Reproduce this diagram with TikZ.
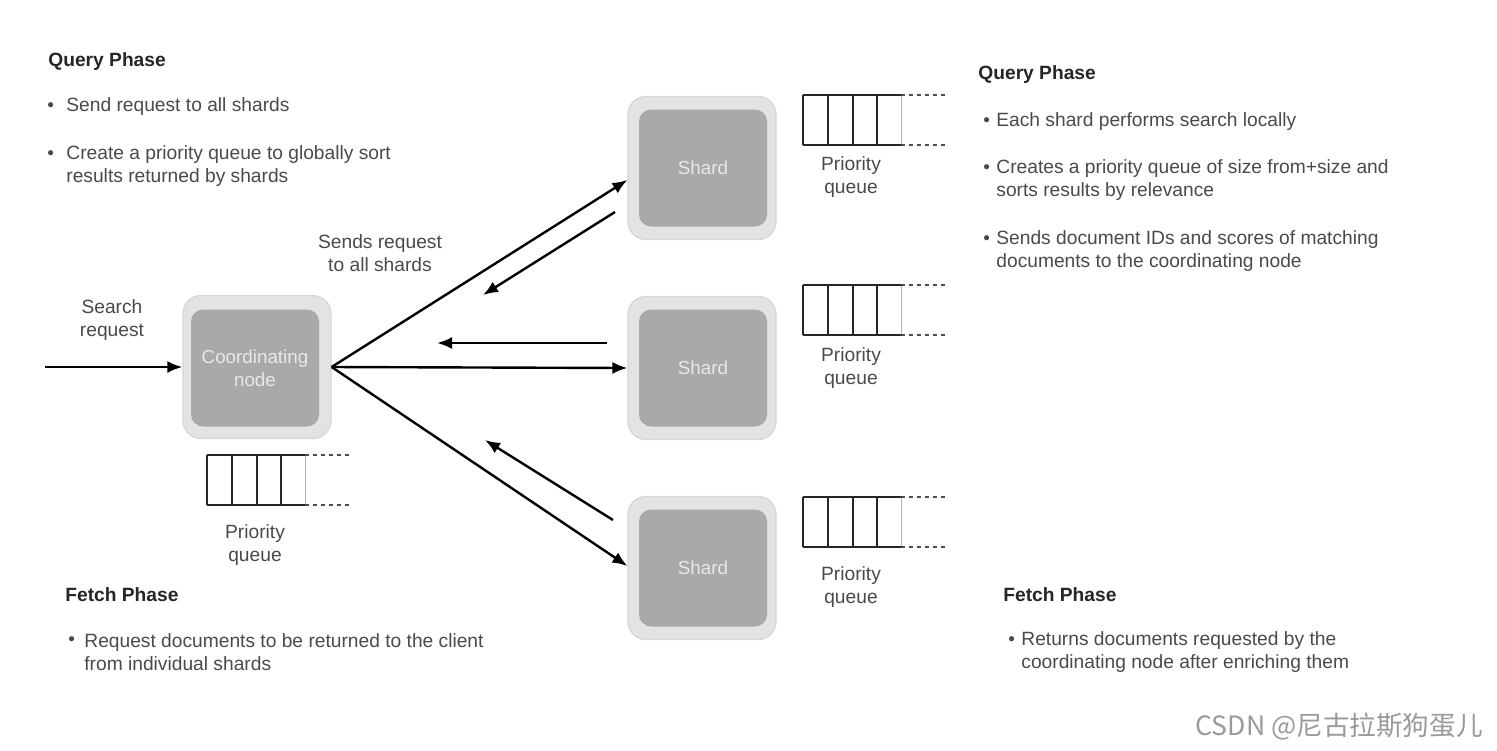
\documentclass[tikz,border=0pt]{standalone}
\usepackage{fontspec}
\setmainfont{Liberation Sans}
\newfontfamily\cjk{Noto Sans CJK SC}
\usetikzlibrary{arrows.meta,calc}
\definecolor{txtgray}{HTML}{4A4A4A}
\definecolor{headcol}{HTML}{262626}
\definecolor{outerfill}{HTML}{E3E3E3}
\definecolor{outerline}{HTML}{D6D6D6}
\definecolor{innerfill}{HTML}{A9A9A9}
\definecolor{boxtxt}{HTML}{E8E8E8}
\definecolor{wmark}{HTML}{9A9A9A}
\tikzset{
  outerbox/.style={draw=outerline, line width=0.6pt, fill=outerfill, rounded corners=9pt,
    minimum width=74pt, minimum height=71.5pt, inner sep=0pt},
  innerbox/.style={fill=innerfill, rounded corners=6pt, minimum width=64pt, minimum height=58.5pt,
    text=boxtxt, align=center, inner sep=0pt, font=\fontsize{9.4}{11.5}\selectfont},
  arr/.style={line width=1.2pt, -{Latex[length=7.5pt,width=6pt]}},
  body/.style={text=txtgray, font=\fontsize{9.6}{11.5}\selectfont, inner sep=0pt, anchor=west, align=left},
  lbl/.style={text=txtgray, font=\fontsize{9.6}{11.5}\selectfont, inner sep=0pt, align=center},
  head/.style={text=headcol, font=\bfseries\fontsize{9.6}{11.5}\selectfont, inner sep=0pt, anchor=west},
  bul/.style={text=txtgray, font=\fontsize{9.5}{10}\selectfont, inner sep=0pt, anchor=west},
  qline/.style={line width=1.3pt, black!85},
  qdash/.style={line width=1.2pt, black!70, dash pattern=on 2pt off 2pt},
  prioq/.pic={
    \draw[qline] (0,0) -- (98,0);
    \draw[qline] (0,50) -- (98,50);
    \foreach \qx in {0,25,50,74} \draw[qline] (\qx,0) -- (\qx,50);
    \draw[black!30, line width=0.5pt] (98,0) -- (98,50);
    \draw[qdash] (98,0) -- (142,0);
    \draw[qdash] (98,50) -- (142,50);
  }
}
\begin{document}
\begin{tikzpicture}[x=0.5pt,y=-0.5pt]
\fill[white] (0,0) rectangle (1497,750);
\useasboundingbox (0,0) rectangle (1497,750);

% boxes
\node[outerbox] (c) at (257,367) {};
\node[innerbox] (ci) at (255,368) {Coordinating\\node};
\node[outerbox] (s1) at (702,168) {};
\node[innerbox] (s1i) at (703,168) {Shard};
\node[outerbox] (s2) at (702,368) {};
\node[innerbox] (s2i) at (703,368) {Shard};
\node[outerbox] (s3) at (702,568) {};
\node[innerbox] (s3i) at (703,568) {Shard};

% queues
\pic at (207,455) {prioq};
\pic at (803,95) {prioq};
\pic at (803,285) {prioq};
\pic at (803,497) {prioq};
\node[lbl] (q0) at (255,545) {Priority\\queue};
\node[lbl] (q1) at (851,177) {Priority\\queue};
\node[lbl] (q2) at (851,368) {Priority\\queue};
\node[lbl] (q3) at (851,587) {Priority\\queue};

% arrows
\coordinate (sr) at (45,367);
\draw[arr] (sr) -- (c.west);
\draw[arr] (c.east) -- ($(s1.west)+(0,12)$);
\draw[arr] (c.east) -- (s2.west);
\draw[arr] (c.east) -- ($(s3.west)+(0,-2)$);
\coordinate (r1s) at (615,212);
\coordinate (r1e) at (483,295);
\coordinate (r2s) at (607,343);
\coordinate (r2e) at (437,343);
\coordinate (r3s) at (613,520);
\coordinate (r3e) at (485,440);
\draw[arr] (r1s) -- (r1e);
\draw[arr] (r2s) -- (r2e);
\draw[arr] (r3s) -- (r3e);

\node[lbl] (srl) at (112,320) {Search\\request};
\node[lbl] (sendl) at (380,253) {Sends request\\to all shards};

% left query phase
\node[head] (lqh) at (48,62) {Query Phase};
\node[bul] (lb1) at (47,107) {•};
\node[body] (lt1) at (66,107) {Send request to all shards};
\node[bul] (lb2) at (47,155) {•};
\node[body] (lt2) at (66,166.5) {Create a priority queue to globally sort\\results returned by shards};

% right query phase
\node[head] (rqh) at (978,75) {Query Phase};
\node[bul] (rb1) at (983,122) {•};
\node[body] (rt1) at (996,122) {Each shard performs search locally};
\node[bul] (rb2) at (983,169) {•};
\node[body] (rt2) at (996,180.5) {Creates a priority queue of size from+size and\\sorts results by relevance};
\node[bul] (rb3) at (983,240) {•};
\node[body] (rt3) at (996,251.5) {Sends document IDs and scores of matching\\documents to the coordinating node};

% fetch phases
\node[head] (lfh) at (65,595) {Fetch Phase};
\node[bul] (lfb) at (68,641) {•};
\node[body] (lft) at (84,652.5) {Request documents to be returned to the client\\from individual shards};
\node[head] (rfh) at (1003,595) {Fetch Phase};
\node[bul] (rfb) at (1008,641) {•};
\node[body] (rft) at (1021,652.5) {Returns documents requested by the\\coordinating node after enriching them};

% watermark
\node[anchor=east, inner sep=0pt, text=wmark, font=\cjk\fontsize{13.3}{15}\selectfont] (wm) at (1483,727) {CSDN @尼古拉斯狗蛋儿};
\end{tikzpicture}
\end{document}
